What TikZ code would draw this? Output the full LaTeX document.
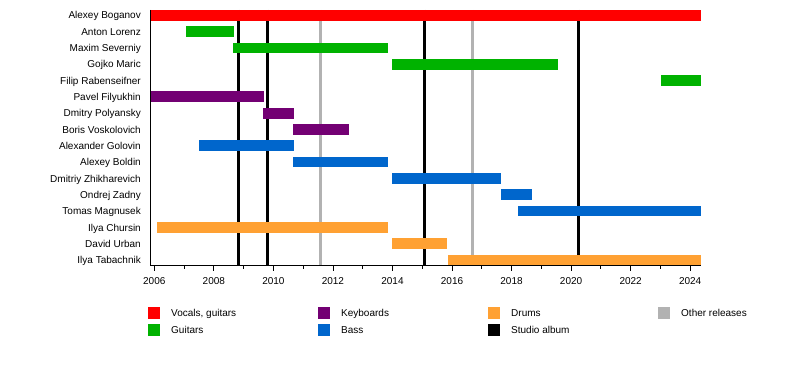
\documentclass[tikz,border=0pt]{standalone}
\usepackage{fontspec}
\setmainfont{Liberation Sans}
\usetikzlibrary{calc}
\usepackage{xcolor}
\definecolor{vocals}{rgb}{1,0,0}
\definecolor{guitars}{rgb}{0,0.7,0}
\definecolor{keys}{rgb}{0.45,0,0.45}
\definecolor{bass}{rgb}{0,0.4,0.8}
\definecolor{drums}{rgb}{1,0.63,0.2}
\definecolor{other}{rgb}{0.7,0.7,0.7}
\newcommand{\yx}[1]{154.3+(#1-2006)*29.77}

\begin{document}
\begin{tikzpicture}[x=1pt,y=-1pt,font=\fontsize{10}{12}\selectfont]
  \useasboundingbox (0,0) rectangle (800,385);
  \tikzstyle{release}=[line width=3pt]
  \tikzstyle{member}=[anchor=base east,inner sep=0pt]
  \tikzstyle{key}=[minimum size=12pt,inner sep=0pt]
  % releases
  \foreach \t/\c in {2008.82/black,2009.80/black,2011.58/other,2015.07/black,2016.68/other,2020.24/black}{
    \draw[release,\c] ({\yx{\t}},10) -- ({\yx{\t}},265);
  }
  % members
  \foreach \i/\n/\s/\e/\c in {0/Alexey Boganov/2005.86/2024.37/vocals,
      1/Anton Lorenz/2007.06/2008.68/guitars, 2/Maxim Severniy/2008.64/2013.85/guitars,
      3/Gojko Maric/2013.98/2019.56/guitars, 4/Filip Rabenseifner/2023.02/2024.37/guitars,
      5/Pavel Filyukhin/2005.86/2009.68/keys, 6/Dmitry Polyansky/2009.65/2010.69/keys,
      7/Boris Voskolovich/2010.66/2012.54/keys, 8/Alexander Golovin/2007.5/2010.69/bass,
      9/Alexey Boldin/2010.66/2013.85/bass, 10/Dmitriy Zhikharevich/2013.98/2017.64/bass,
      11/Ondrej Zadny/2017.64/2018.69/bass, 12/Tomas Magnusek/2018.22/2024.37/bass,
      13/Ilya Chursin/2006.09/2013.85/drums, 14/David Urban/2013.98/2015.83/drums,
      15/Ilya Tabachnik/2015.87/2024.37/drums}{
    \node[member] (m\i) at (141,{15.3+16.31*\i+3.7}) {\n};
    \fill[\c] ({\yx{\s}},{15.3+16.31*\i-5.35}) rectangle ({\yx{\e}},{15.3+16.31*\i+5.35});
  }
  % axis
  \coordinate (top) at (150,10);
  \coordinate (o) at (150,265);
  \coordinate (end) at (701,265);
  \draw[line width=0.8pt] (top) -- (o) -- (end);
  \foreach \y in {2006,2008,...,2024}{
    \draw[line width=0.8pt] ({\yx{\y}},265) -- ++(0,6);
    \node[anchor=base,inner sep=0pt] (y\y) at ({\yx{\y}},284.3) {\y};
  }
  \foreach \y in {2007,2009,...,2023}{
    \draw[line width=0.8pt] ({\yx{\y}},265) -- ++(0,3.5);
  }
  % legend
  \foreach \c/\t/\x/\y in {vocals/{Vocals, guitars}/148/313, guitars/Guitars/148/330,
      keys/Keyboards/318/313, bass/Bass/318/330, drums/Drums/488/313,
      black/Studio album/488/330, other/Other releases/658/313}{
    \node[key,fill=\c] (k\c) at (\x+6,\y) {};
    \node[anchor=base west,inner sep=0pt] (l\c) at (\x+23,\y+3.7) {\t};
  }
\end{tikzpicture}
\end{document}
